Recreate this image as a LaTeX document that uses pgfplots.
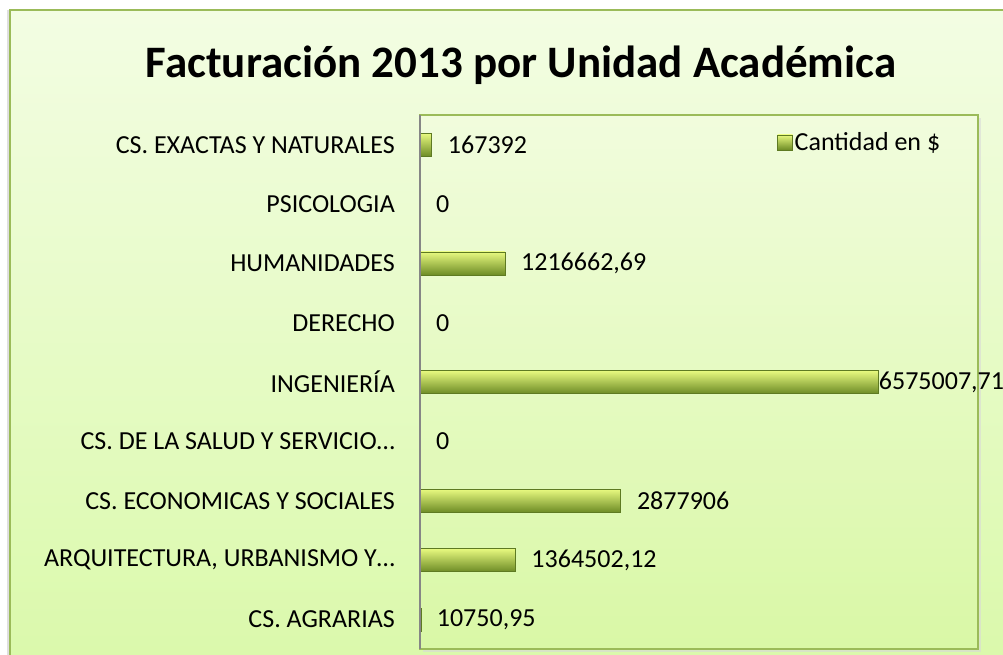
\documentclass[border=0pt]{standalone}
\usepackage{fontspec}
\setmainfont{Carlito}
\usepackage{pgfplots}
\pgfplotsset{compat=1.18}
\definecolor{outertop}{HTML}{F3FDE3}
\definecolor{outerbot}{HTML}{DAF9AA}
\definecolor{plottop}{HTML}{F1FCDD}
\definecolor{plotbot}{HTML}{D9F8A6}
\definecolor{frame}{HTML}{9BBB59}
\definecolor{axgray}{HTML}{868686}
\definecolor{bartop}{HTML}{E8FA80}
\definecolor{barmid}{HTML}{A2C83C}
\definecolor{barbot}{HTML}{6E8C26}
\definecolor{baredge}{HTML}{5E7A22}
\newcommand{\lab}{\fontsize{26}{30}\selectfont}
\tikzset{
  barfill/.style={top color=bartop, middle color=barmid, bottom color=barbot, draw=baredge, line width=0.6pt},
}

\begin{document}
\begin{tikzpicture}[x=1pt,y=1pt]
% chart area
\fill[gray!25] (7,-20) rectangle (12,645);
\path[top color=outertop, bottom color=outerbot, draw=frame, line width=2.5pt] (10,-20) rectangle (1030,645);
\node[anchor=base, font=\fontsize{45}{50}\selectfont\bfseries] at (521,577) {Facturación 2013 por Unidad Académica};
% plot area shadow
\fill[gray!30, opacity=0.6] (423,3) rectangle (981,537);
\begin{axis}[
  name=ax,
  at={(420pt,6pt)}, anchor=south west,
  scale only axis, width=558pt, height=534pt,
  xbar, bar width=23pt, bar shift=0pt,
  xmin=0, xmax=8000000, ymin=-0.5, ymax=8.5,
  ytick={0,...,8},
  yticklabels={CS. AGRARIAS, {ARQUITECTURA, URBANISMO Y…}, CS. ECONOMICAS Y SOCIALES, CS. DE LA SALUD Y SERVICIO…, INGENIERÍA, DERECHO, HUMANIDADES, PSICOLOGIA, CS. EXACTAS Y NATURALES},
  xtick=\empty,
  major tick length=0pt,
  axis line style={draw=none},
  axis background/.style={top color=plottop, bottom color=plotbot, draw=frame, line width=2pt},
  y tick label style={font=\lab, anchor=east, inner sep=0pt, xshift=-25pt},
  point meta=explicit symbolic,
  nodes near coords,
  every node near coord/.append style={font=\lab, anchor=west, inner sep=0pt, text=black, xshift=16pt},
  legend style={at={(0.64,0.949)}, anchor=west, draw=none, fill=none, inner sep=0pt, font=\lab},
  legend cell align=left,
  legend image code/.code={\path[barfill, line width=0.4pt] (0pt,-7.5pt) rectangle (15pt,7.5pt);},
  clip=false,
]
\addplot[barfill] coordinates {(167392,8)[167392]};
\addlegendentry{Cantidad en \$}
\addplot[barfill, forget plot] coordinates {(1216662.69,6)[1216662,69]};
\addplot[barfill, forget plot, every node near coord/.append style={xshift=-16pt}] coordinates {(6575007.71,4)[6575007,71]};
\addplot[barfill, forget plot] coordinates {(2877906,2)[2877906]};
\addplot[barfill, forget plot] coordinates {(1364502.12,1)[1364502,12]};
\addplot[barfill, forget plot, line width=0.2pt] coordinates {(10750.95,0)[10750,95]};
\addplot[draw=none, fill=none, forget plot] coordinates {
  (0,3)[0]
  (0,5)[0]
  (0,7)[0]
};
\end{axis}
\draw[color=axgray, line width=1.5pt] (ax.south west) -- (ax.north west);
\pgfresetboundingbox
\useasboundingbox (0,0) rectangle (1003,655);
\end{tikzpicture}
\end{document}
